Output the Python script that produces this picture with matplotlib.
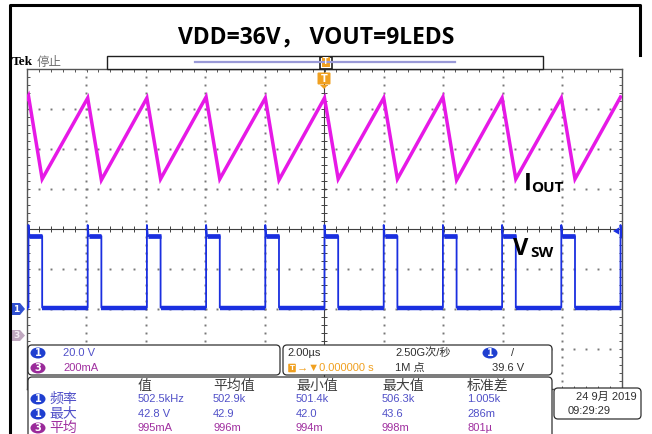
import numpy as np
import matplotlib.pyplot as plt
from matplotlib.patches import FancyBboxPatch, Ellipse, Rectangle, Polygon

# ---- scope settings / data ----
t_div = 2.0          # us per division
ch1_vdiv = 20.0      # V per division
ch3_idiv = 200.0     # mA per division
ch1_ground = -2.0    # divisions from centre
ch3_ground = -2.65

# current peaks (Vsw rising edges) and valleys (Vsw falling edges), in us
peak_t = [-9.95, -7.96, -5.97, -3.98, -1.99, 0.0, 1.99, 3.98, 5.97, 7.96, 9.95]
valley_t = [-9.49, -7.50, -5.51, -3.52, -1.53, 0.46, 2.45, 4.44, 6.43, 8.42]
peak_ma = [1195, 1185, 1185, 1190, 1185, 1185, 1185, 1190, 1185, 1185, 1190]
valley_ma = [780, 775, 780, 780, 775, 780, 780, 775, 780, 780]
start_ma = 1180

vsw_high = 36.5
vsw_low = 0.7
vsw_spike = 42.0

meas_head = ['值', '平均值', '最小值', '最大值', '标准差']
meas_freq = ['502.5kHz', '502.9k', '501.4k', '506.3k', '1.005k']
meas_max = ['42.8 V', '42.9', '42.0', '43.6', '286m']
meas_mean = ['995mA', '996m', '994m', '998m', '801µ']

W, H = 652, 434
BLUE = '#1a2fe0'
MAG = '#e619e6'
BADGE_BLUE = '#1f3fd0'
BADGE_PUR = '#9a2a9a'
TXT_BLUE = '#5050c8'
TXT_PUR = '#a030a0'
ORANGE = '#f0a020'
FAM = ['Liberation Sans', 'Noto Sans CJK SC']

fig = plt.figure(figsize=(W / 100, H / 100), dpi=100)
fig.patch.set_facecolor('white')


def px_axes(x0, y0, x1, y1):
    return [x0 / W, 1 - y1 / H, (x1 - x0) / W, (y1 - y0) / H]


grat = px_axes(27, 69, 622, 389)

# ---- graticule ----
ax = fig.add_axes(grat)
ax.set_xlim(-5 * t_div, 5 * t_div)
ax.set_ylim(-4, 4)
ax.set_facecolor('none')
for s in ax.spines.values():
    s.set_color('#555555')
    s.set_linewidth(1.0)
ax.set_xticks(np.arange(-10, 10.01, 0.4))
ax.set_yticks(np.arange(-4, 4.01, 0.2))
ax.tick_params(direction='in', length=2.5, width=0.7, color='#555555',
               top=True, right=True, labelbottom=False, labelleft=False)

dot_y = np.arange(-4, 4.01, 0.2)
dot_x = np.arange(-10, 10.01, 0.4)
for k in [-4, -3, -2, -1, 1, 2, 3, 4]:
    ax.plot(np.full_like(dot_y, k * t_div), dot_y, ls='none', marker='s',
            ms=1.4, color='#777777', mew=0)
for j in [-3, -2, -1, 1, 2, 3]:
    ax.plot(dot_x, np.full_like(dot_x, j), ls='none', marker='s',
            ms=1.4, color='#777777', mew=0)
# centre cross with minor ticks
ax.axhline(0, color='#404040', lw=0.8)
ax.axvline(0, color='#404040', lw=0.8)
ax.plot(dot_x, np.zeros_like(dot_x), ls='none', marker='|', ms=4,
        color='#404040', mew=0.7)
ax.plot(np.zeros_like(dot_y), dot_y, ls='none', marker='_', ms=4,
        color='#404040', mew=0.7)

# ---- channel 3: inductor/LED current ----
ax_i = fig.add_axes(grat)
ax_i.set_xlim(-5 * t_div, 5 * t_div)
ax_i.set_ylim((-4 - ch3_ground) * ch3_idiv, (4 - ch3_ground) * ch3_idiv)
ax_i.axis('off')
it = [-5 * t_div]
iv = [start_ma]
for k in range(len(peak_t)):
    it.append(peak_t[k])
    iv.append(peak_ma[k])
    if k < len(valley_t):
        it.append(valley_t[k])
        iv.append(valley_ma[k])
ax_i.plot(it, iv, color=MAG, lw=2.5, solid_joinstyle='miter')

# ---- channel 1: switch node voltage ----
ax_v = fig.add_axes(grat)
ax_v.set_xlim(-5 * t_div, 5 * t_div)
ax_v.set_ylim((-4 - ch1_ground) * ch1_vdiv, (4 - ch1_ground) * ch1_vdiv)
ax_v.axis('off')
vt = [-5 * t_div]
vv = [vsw_low]
for k in range(len(peak_t)):
    vt += [peak_t[k], peak_t[k], peak_t[k] + 0.03]
    vv += [vsw_low, vsw_spike, vsw_high]
    if k < len(valley_t):
        vt += [valley_t[k], valley_t[k]]
        vv += [vsw_high, vsw_low]
    else:
        vt.append(5 * t_div)
        vv.append(vsw_high)
ax_v.plot(vt, vv, color=BLUE, lw=1.3)
# thick plateaus (persistence band)
lows = [-5 * t_div] + valley_t
for k in range(len(peak_t)):
    ax_v.plot([lows[k], peak_t[k]], [vsw_low, vsw_low], color=BLUE, lw=3.2,
              solid_capstyle='butt')
    end = valley_t[k] if k < len(valley_t) else 5 * t_div
    ax_v.plot([peak_t[k] + 0.03, end], [vsw_high, vsw_high], color=BLUE,
              lw=3.4, solid_capstyle='butt')

# ---- overlay in pixel coordinates ----
ov = fig.add_axes([0, 0, 1, 1], zorder=10)
ov.set_xlim(0, W)
ov.set_ylim(H, 0)
ov.axis('off')

# outer frame
ov.plot([10, 10, 640, 640], [434, 5, 5, 55], color='black', lw=2.2)

ov.text(316, 37, 'VDD=36V， VOUT=9LEDS', ha='center', va='center',
        fontsize=16.5, fontweight='bold', family=['Open Sans', 'Noto Sans CJK SC'])

ov.text(12, 62, 'Tek', ha='left', va='center', fontsize=9.5, fontweight='bold',
        family=['Liberation Serif'])
ov.text(37, 62, '停止', ha='left', va='center', fontsize=9, color='#707070',
        family=['Noto Sans CJK SC'])

# record view bar
ov.add_patch(Rectangle((107, 56), 436, 13, fc='white', ec='#202020', lw=1))
ov.plot([195, 455], [62, 62], color='#9a9ad8', lw=1.6)
ov.add_patch(Rectangle((320, 56.5), 12, 12, fc='none', ec='#202020', lw=1.2))
ov.add_patch(FancyBboxPatch((322.5, 57.5), 7, 9, boxstyle='round,pad=0.5',
                            fc=ORANGE, ec='none'))
ov.text(326, 62, 'T', ha='center', va='center', fontsize=5.5, color='white',
        fontweight='bold')
# trigger position marker
ov.add_patch(FancyBboxPatch((318.5, 73.5), 11, 10, boxstyle='round,pad=1',
                            fc=ORANGE, ec='none'))
ov.text(324, 79, 'T', ha='center', va='center', fontsize=7, color='white',
        fontweight='bold')
ov.add_patch(Polygon([[320, 85], [328, 85], [324, 89]], fc=ORANGE, ec='none'))

# channel ground markers
ov.add_patch(Polygon([[10, 303], [20, 303], [25, 309], [20, 315], [10, 315]],
                     fc='#3050d0', ec='none'))
ov.text(16, 309, '1', ha='center', va='center', fontsize=6.5, color='white',
        fontweight='bold')
ov.add_patch(Polygon([[10, 330], [20, 330], [25, 335.5], [20, 341], [10, 341]],
                     fc='#c0a8c0', ec='none'))
ov.text(16, 335.5, '3', ha='center', va='center', fontsize=6.5, color='#f4ecf4',
        fontweight='bold')
# trigger level marker
ov.add_patch(Polygon([[619, 227.5], [619, 234.5], [613, 231]], fc=BLUE, ec='none'))

# trace labels
ov.text(524, 184, 'I', ha='left', va='center', fontsize=17, fontweight='bold',
        family=['Open Sans'])
ov.text(531, 188, 'OUT', ha='left', va='center', fontsize=11, fontweight='bold',
        family=['Open Sans'])
ov.text(513, 249, 'V', ha='left', va='center', fontsize=17, fontweight='bold',
        family=['Open Sans'])
ov.text(530, 253, 'SW', ha='left', va='center', fontsize=11, fontweight='bold',
        family=['Open Sans'])


def box(x0, y0, x1, y1):
    ov.add_patch(FancyBboxPatch((x0 + 4, y0 + 4), x1 - x0 - 8, y1 - y0 - 8,
                                boxstyle='round,pad=4', fc='white',
                                ec='#303030', lw=0.9))


def badge(x, y, n, col):
    ov.add_patch(Ellipse((x, y), 15, 11, fc=col, ec='none'))
    ov.text(x, y, n, ha='center', va='center', fontsize=7, color='white',
            fontweight='bold')


def txt(x, y, s, col='#303030', size=8, ha='left'):
    ov.text(x, y, s, ha=ha, va='center', fontsize=size, color=col, family=FAM)


# channel scale box
box(28, 345, 280, 375)
badge(38, 353, '1', BADGE_BLUE)
txt(63, 353, '20.0 V', TXT_BLUE)
badge(38, 368, '3', BADGE_PUR)
txt(63, 368, '200mA', TXT_PUR)

# timebase / trigger box
box(283, 345, 552, 375)
txt(287, 353, '2.00µs')
ov.add_patch(FancyBboxPatch((289, 364.5), 6, 7, boxstyle='round,pad=0.8',
                            fc=ORANGE, ec='none'))
ov.text(292, 368, 'T', ha='center', va='center', fontsize=5, color='white',
        fontweight='bold')
txt(297, 368, '→▼0.000000 s', ORANGE)
txt(395, 353, '2.50G次/秒')
txt(395, 368, '1M 点')
badge(490, 353, '1', BADGE_BLUE)
txt(511, 353, '/', '#303030')
txt(524, 368, '39.6 V', ha='right')

# measurement box
box(28, 377, 552, 460)
col_x = [138, 213, 296, 382, 467]
for x, h in zip(col_x, meas_head):
    txt(x, 386, h, '#404040', size=10)
rows = [('1', '频率', meas_freq, BADGE_BLUE, TXT_BLUE, 399),
        ('1', '最大', meas_max, BADGE_BLUE, TXT_BLUE, 414),
        ('3', '平均', meas_mean, BADGE_PUR, TXT_PUR, 428)]
for n, name, vals, bcol, tcol, y in rows:
    badge(38, y, n, bcol)
    txt(49, y, name, tcol, size=10)
    for x, v in zip(col_x, vals):
        txt(x, y, v, tcol)

# date box
box(554, 388, 641, 419)
txt(637, 397, '24 9月 2019', ha='right')
txt(568, 411, '09:29:29')

fig.savefig('out.png', dpi=100)
